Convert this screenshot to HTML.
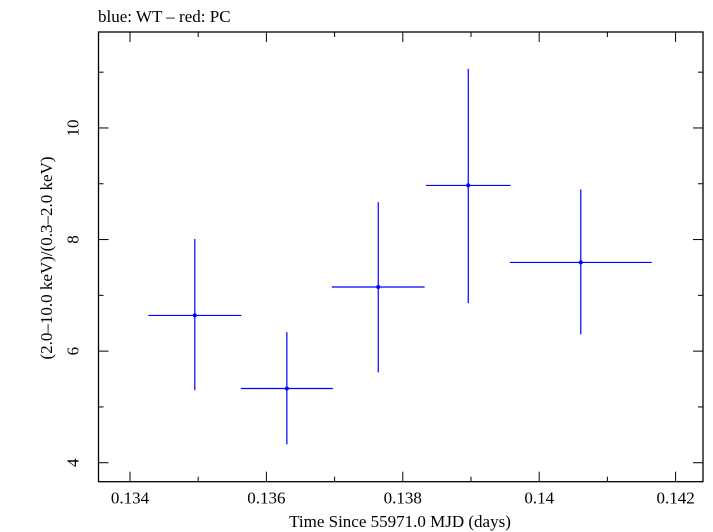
<!DOCTYPE html>
<html><head><meta charset="utf-8"><style>body{margin:0;background:#fff}svg{display:block}text{font-family:"Liberation Serif",serif;font-size:17px;fill:#000}</style></head>
<body>
<svg id="c" width="713" height="532">
<text x="98" y="22">blue: WT – red: PC</text>
<text x="400" y="527" text-anchor="middle">Time Since 55971.0 MJD (days)</text>
<text transform="translate(52,258) rotate(-90)" text-anchor="middle">(2.0–10.0 keV)/(0.3–2.0 keV)</text>
</svg>
<script>
const xs=[0.13495,0.13630,0.13764,0.13896,0.14061];
const xerr=[0.00068,0.000675,0.00068,0.00062,0.00104];
const ys=[6.64,5.33,7.15,8.97,7.59];
const ylo=[5.30,4.33,5.62,6.86,6.30];
const yhi=[8.01,6.34,8.67,11.06,8.90];
const xTicks=[0.134,0.136,0.138,0.14,0.142];
const xTickLabels=["0.134","0.136","0.138","0.14","0.142"];
const yTicks=[4,6,8,10];
const yTickLabels=["4","6","8","10"];
const L=98.5,R=703,T=32,B=481.7,x0=0.133538,x1=0.142402,y0=3.66,y1=11.72;
const X=v=>L+(v-x0)/(x1-x0)*(R-L),Y=v=>B-(v-y0)/(y1-y0)*(B-T);
const s=document.getElementById('c'),NS='http://www.w3.org/2000/svg';
function mk(t,a,name){const e=document.createElementNS(NS,t);for(const k in a)e.setAttribute(k,a[k]);


s.appendChild(e);return e;}
mk('rect',{x:L,y:T,width:R-L,height:B-T,fill:'none',stroke:'#000','stroke-width':1.3},'plot-frame');
for(let v=0.134;v<=0.1425;v+=0.001){const maj=Math.round(v*1000)%2===0;const len=maj?10:5;const px=X(v);
mk('line',{x1:px,x2:px,y1:B,y2:B-len,stroke:'#000'},'x-tick');
mk('line',{x1:px,x2:px,y1:T,y2:T+len,stroke:'#000'},'x-tick-top');}
xTicks.forEach((v,i)=>{const t=mk('text',{x:X(v),y:B+22,'text-anchor':'middle'},'x-tick-label');t.textContent=xTickLabels[i];});
for(let v=4;v<=11;v++){const maj=v%2===0;const len=maj?10:5;const py=Y(v);
mk('line',{x1:L,x2:L+len,y1:py,y2:py,stroke:'#000'},'y-tick');
mk('line',{x1:R,x2:R-len,y1:py,y2:py,stroke:'#000'},'y-tick-right');}
yTicks.forEach((v,i)=>{const t=mk('text',{transform:`translate(${L-20},${Y(v)}) rotate(-90)`,'text-anchor':'middle'},'y-tick-label');t.textContent=yTickLabels[i];});
xs.forEach((v,i)=>{
mk('line',{x1:X(v-xerr[i]),x2:X(v+xerr[i]),y1:Y(ys[i]),y2:Y(ys[i]),stroke:'#0000ff','stroke-width':1.2},'x-error-bar');
mk('line',{x1:X(v),x2:X(v),y1:Y(ylo[i]),y2:Y(yhi[i]),stroke:'#0000ff','stroke-width':1.2},'y-error-bar');
mk('circle',{cx:X(v),cy:Y(ys[i]),r:2,fill:'#0000ff'},'data-point');});
</script>
</body></html>
